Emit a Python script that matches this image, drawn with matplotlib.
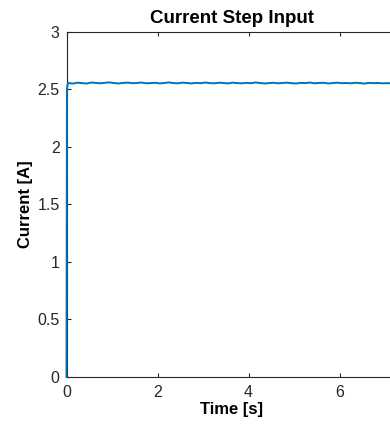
import matplotlib.pyplot as plt
import numpy as np

plt.rcParams['font.family'] = ['Liberation Sans', 'DejaVu Sans']

time_s = [0.0, 0.01, 0.03] + [0.05 + 0.1 * i for i in range(73)]
current_a = [0.0, 2.50, 2.555,
             2.552, 2.548, 2.556, 2.551, 2.549, 2.557, 2.553, 2.550, 2.555, 2.558,
             2.552, 2.549, 2.554, 2.556, 2.551, 2.553, 2.557, 2.550, 2.552, 2.555,
             2.549, 2.553, 2.558, 2.552, 2.550, 2.556, 2.553, 2.549, 2.554, 2.551,
             2.557, 2.552, 2.550, 2.555, 2.553, 2.549, 2.556, 2.552, 2.550, 2.554,
             2.551, 2.557, 2.553, 2.549, 2.552, 2.555, 2.550, 2.553, 2.556, 2.551,
             2.549, 2.554, 2.552, 2.557, 2.550, 2.553, 2.555, 2.549, 2.552, 2.556,
             2.551, 2.553, 2.550, 2.555, 2.552, 2.548, 2.554, 2.551, 2.553, 2.550,
             2.552, 2.549, 2.553]

fig = plt.figure(figsize=(3.9, 4.24), dpi=100)
# axes runs past the right edge like the cropped original
ax = fig.add_axes([66.5 / 390, 47 / 424, 331 / 390, 345.5 / 424])
ax.plot(time_s, current_a, color='#0072BD', linewidth=1.4, zorder=3, clip_on=False)

ax.set_xlim(0, 331 / 45.5)
ax.set_ylim(0, 3)
ax.set_xticks([0, 2, 4, 6])
ax.set_yticks([0, 0.5, 1, 1.5, 2, 2.5, 3])
ax.set_yticklabels(['0', '0.5', '1', '1.5', '2', '2.5', '3'])
ax.tick_params(direction='in', top=True, right=True, length=3, width=0.8,
               labelsize=11.5, colors='#262626')
ax.tick_params(axis='x', pad=6)
ax.tick_params(axis='y', pad=5)
for s in ax.spines.values():
    s.set_color('#262626')
    s.set_linewidth(0.8)

ax.set_xlabel('Time [s]', fontsize=12, fontweight='bold', labelpad=1)
ax.set_ylabel('Current [A]', fontsize=12, fontweight='bold', labelpad=3)
ax.set_title('Current Step Input', fontsize=13.5, fontweight='bold', pad=6)

fig.savefig('out.png', dpi=100)
